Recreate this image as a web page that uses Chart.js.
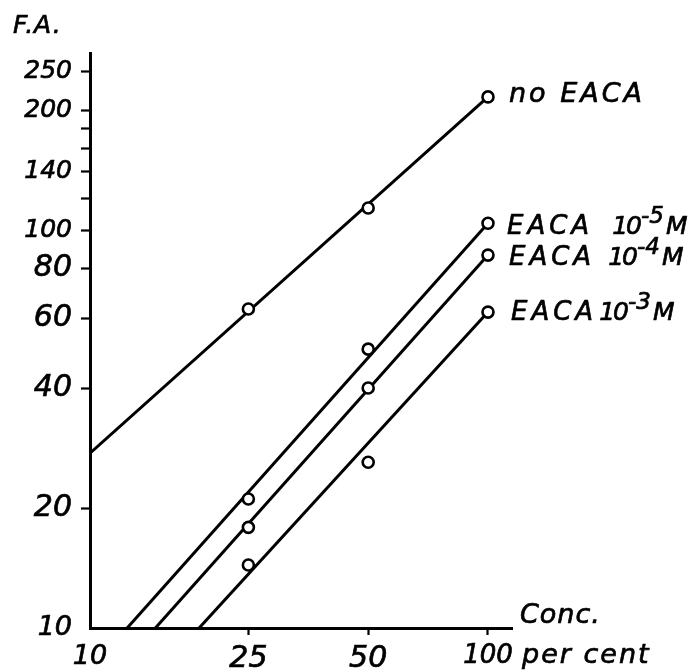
<!DOCTYPE html>
<html>
<head>
<meta charset="utf-8">
<script src="https://cdn.jsdelivr.net/npm/chart.js@4/dist/chart.umd.min.js"></script>
<style>
  html, body { margin: 0; padding: 0; background: #ffffff; }
  #wrap { width: 698px; height: 672px; }
</style>
</head>
<body>
<div id="wrap"><canvas id="chart" width="698" height="672"></canvas></div>
<script>
// ---------- data ----------
const concentrations = [25, 50, 100];            // per cent
const faNoEACA  = [63.3, 113.6, 216];
const faEACA5   = [21.1, 50.2, 104];
const faEACA4   = [17.9, 40.1, 86.5];
const faEACA3   = [14.4, 26.1, 62.2];

// hand-fitted straight lines (end points)
const fitConcNoEACA = [10, 100];   const fitFANoEACA = [27.5, 216];
const fitConcEACA5  = [12.4, 100]; const fitFAEACA5  = [10, 104];
const fitConcEACA4  = [14.6, 100]; const fitFAEACA4  = [10, 86.5];
const fitConcEACA3  = [18.8, 100]; const fitFAEACA3  = [10, 62.2];

const seriesMain = ['no EACA', 'EACA', 'EACA', 'EACA'];
const seriesExp  = ['', '-5', '-4', '-3'];
const unitBase = '10';
const unitMol = 'M';

const xTicks = [10, 25, 50, 100];
const yTicks = [10, 20, 40, 60, 80, 100, 120, 140, 160, 180, 200, 250];
const yLabelled = [10, 20, 40, 60, 80, 100, 140, 200, 250];

const yTitle = 'F.A.';
const xTitle1 = 'Conc.';
const xTitle2 = 'per cent';

// ---------- build ----------
const toXY = (xs, ys) => xs.map((x, i) => ({ x: x, y: ys[i] }));
const pointSeries = [faNoEACA, faEACA5, faEACA4, faEACA3];
const fitSeries = [
  [fitConcNoEACA, fitFANoEACA],
  [fitConcEACA5, fitFAEACA5],
  [fitConcEACA4, fitFAEACA4],
  [fitConcEACA3, fitFAEACA3]
];

const INK = '#000000';
const FONT = '"DejaVu Sans", sans-serif';

const datasets = [];
pointSeries.forEach((ys, i) => {
  datasets.push({
    label: seriesMain[i] + (seriesExp[i] ? ' ' + unitBase + seriesExp[i] + unitMol : ''),
    data: toXY(concentrations, ys),
    showLine: false,
    pointStyle: 'circle',
    pointRadius: 5.5,
    pointBorderWidth: 2.6,
    pointBorderColor: INK,
    pointBackgroundColor: '#ffffff'
  });
});
fitSeries.forEach((f, i) => {
  datasets.push({
    label: 'fit ' + i,
    data: toXY(f[0], f[1]),
    showLine: true,
    borderColor: INK,
    borderWidth: 3,
    pointRadius: 0,
    fill: false
  });
});

// label layout for right-hand annotations
const labelStyle = [
  { dx: 21, dy: 5,  gap: 0 },
  { dx: 19, dy: 11, gap: 19 },
  { dx: 21, dy: 10, gap: 13 },
  { dx: 23, dy: 8,  gap: 2 }
];

function drawSegs(ctx, x, y, segs) {
  ctx.strokeStyle = INK;
  ctx.lineWidth = 0.7;
  ctx.lineJoin = 'round';
  for (const s of segs) {
    ctx.font = 'italic ' + s.size + 'px ' + FONT;
    ctx.letterSpacing = (s.ls || 0) + 'px';
    x += (s.dx || 0);
    ctx.fillText(s.t, x, y - (s.rise || 0));
    ctx.strokeText(s.t, x, y - (s.rise || 0));
    x += ctx.measureText(s.t).width;
  }
  ctx.letterSpacing = '0px';
}

const annotations = {
  id: 'annotations',
  afterDatasetsDraw(chart) {
    const ctx = chart.ctx;
    const area = chart.chartArea;
    ctx.save();
    ctx.fillStyle = INK;
    ctx.textBaseline = 'alphabetic';
    ctx.textAlign = 'left';
    // series labels next to the last point of each series
    for (let i = 0; i < pointSeries.length; i++) {
      const meta = chart.getDatasetMeta(i);
      const el = meta.data[meta.data.length - 1];
      const st = labelStyle[i];
      const x = el.x + st.dx, y = el.y + st.dy;
      if (!seriesExp[i]) {
        drawSegs(ctx, x, y, [{ t: seriesMain[i], size: 27, ls: 3 }]);
      } else {
        drawSegs(ctx, x, y, [
          { t: seriesMain[i], size: 26, ls: 4 },
          { t: unitBase, size: 25, ls: -2, dx: st.gap },
          { t: seriesExp[i], size: 23, dx: 1, rise: 11 },
          { t: unitMol, size: 25, dx: 2 }
        ]);
      }
    }
    // axis titles
    drawSegs(ctx, 13, 33, [{ t: yTitle, size: 25, ls: 1 }]);
    drawSegs(ctx, area.right + 8, area.bottom - 5, [{ t: xTitle1, size: 27, ls: 1 }]);
    drawSegs(ctx, area.right + 10, area.bottom + 35, [{ t: xTitle2, size: 27, ls: 2 }]);
    ctx.restore();
  }
};

new Chart(document.getElementById('chart'), {
  type: 'scatter',
  data: { datasets: datasets },
  options: {
    responsive: false,
    devicePixelRatio: 1,
    animation: false,
    events: [],
    layout: { padding: { top: 53, right: 186, left: 0, bottom: 0 } },
    plugins: {
      legend: { display: false },
      tooltip: { enabled: false },
      title: { display: false }
    },
    scales: {
      x: {
        type: 'logarithmic',
        position: 'bottom',
        min: 10,
        max: 114.9,
        afterBuildTicks: (s) => { s.ticks = xTicks.map(v => ({ value: v })); },
        afterFit: (s) => { s.height = 44; },
        border: { display: true, color: INK, width: 3 },
        grid: {
          display: true,
          drawOnChartArea: false,
          drawTicks: true,
          tickLength: 7,
          tickWidth: 2.2,
          color: INK,
          tickColor: (c) => (c.tick && c.tick.value === 10 ? 'rgba(0,0,0,0)' : INK)
        },
        ticks: {
          autoSkip: false,
          maxRotation: 0,
          minRotation: 0,
          padding: 6,
          color: INK,
          textStrokeColor: INK,
          textStrokeWidth: 0.7,
          font: (c) => ({
            family: FONT,
            style: 'italic',
            size: (c.tick && (c.tick.value === 25 || c.tick.value === 50)) ? 30 : (c.tick && c.tick.value === 100 ? 26 : 27)
          }),
          callback: (v) => String(v)
        }
      },
      y: {
        type: 'logarithmic',
        position: 'left',
        min: 10,
        max: 278.5,
        afterBuildTicks: (s) => { s.ticks = yTicks.map(v => ({ value: v })); },
        afterFit: (s) => { s.width = 90; },
        border: { display: true, color: INK, width: 3 },
        grid: {
          display: true,
          drawOnChartArea: false,
          drawTicks: true,
          tickLength: 9,
          tickWidth: 2.2,
          color: INK,
          tickColor: (c) => (c.tick && c.tick.value === 10 ? 'rgba(0,0,0,0)' : INK)
        },
        ticks: {
          autoSkip: false,
          padding: 9,
          color: INK,
          textStrokeColor: INK,
          textStrokeWidth: 0.7,
          font: (c) => ({
            family: FONT,
            style: 'italic',
            size: (c.tick && c.tick.value >= 100) ? 25 : (c.tick && c.tick.value === 10 ? 27 : 30)
          }),
          callback: (v) => (yLabelled.includes(v) ? String(v) : '')
        }
      }
    }
  },
  plugins: [annotations]
});
</script>
</body>
</html>
